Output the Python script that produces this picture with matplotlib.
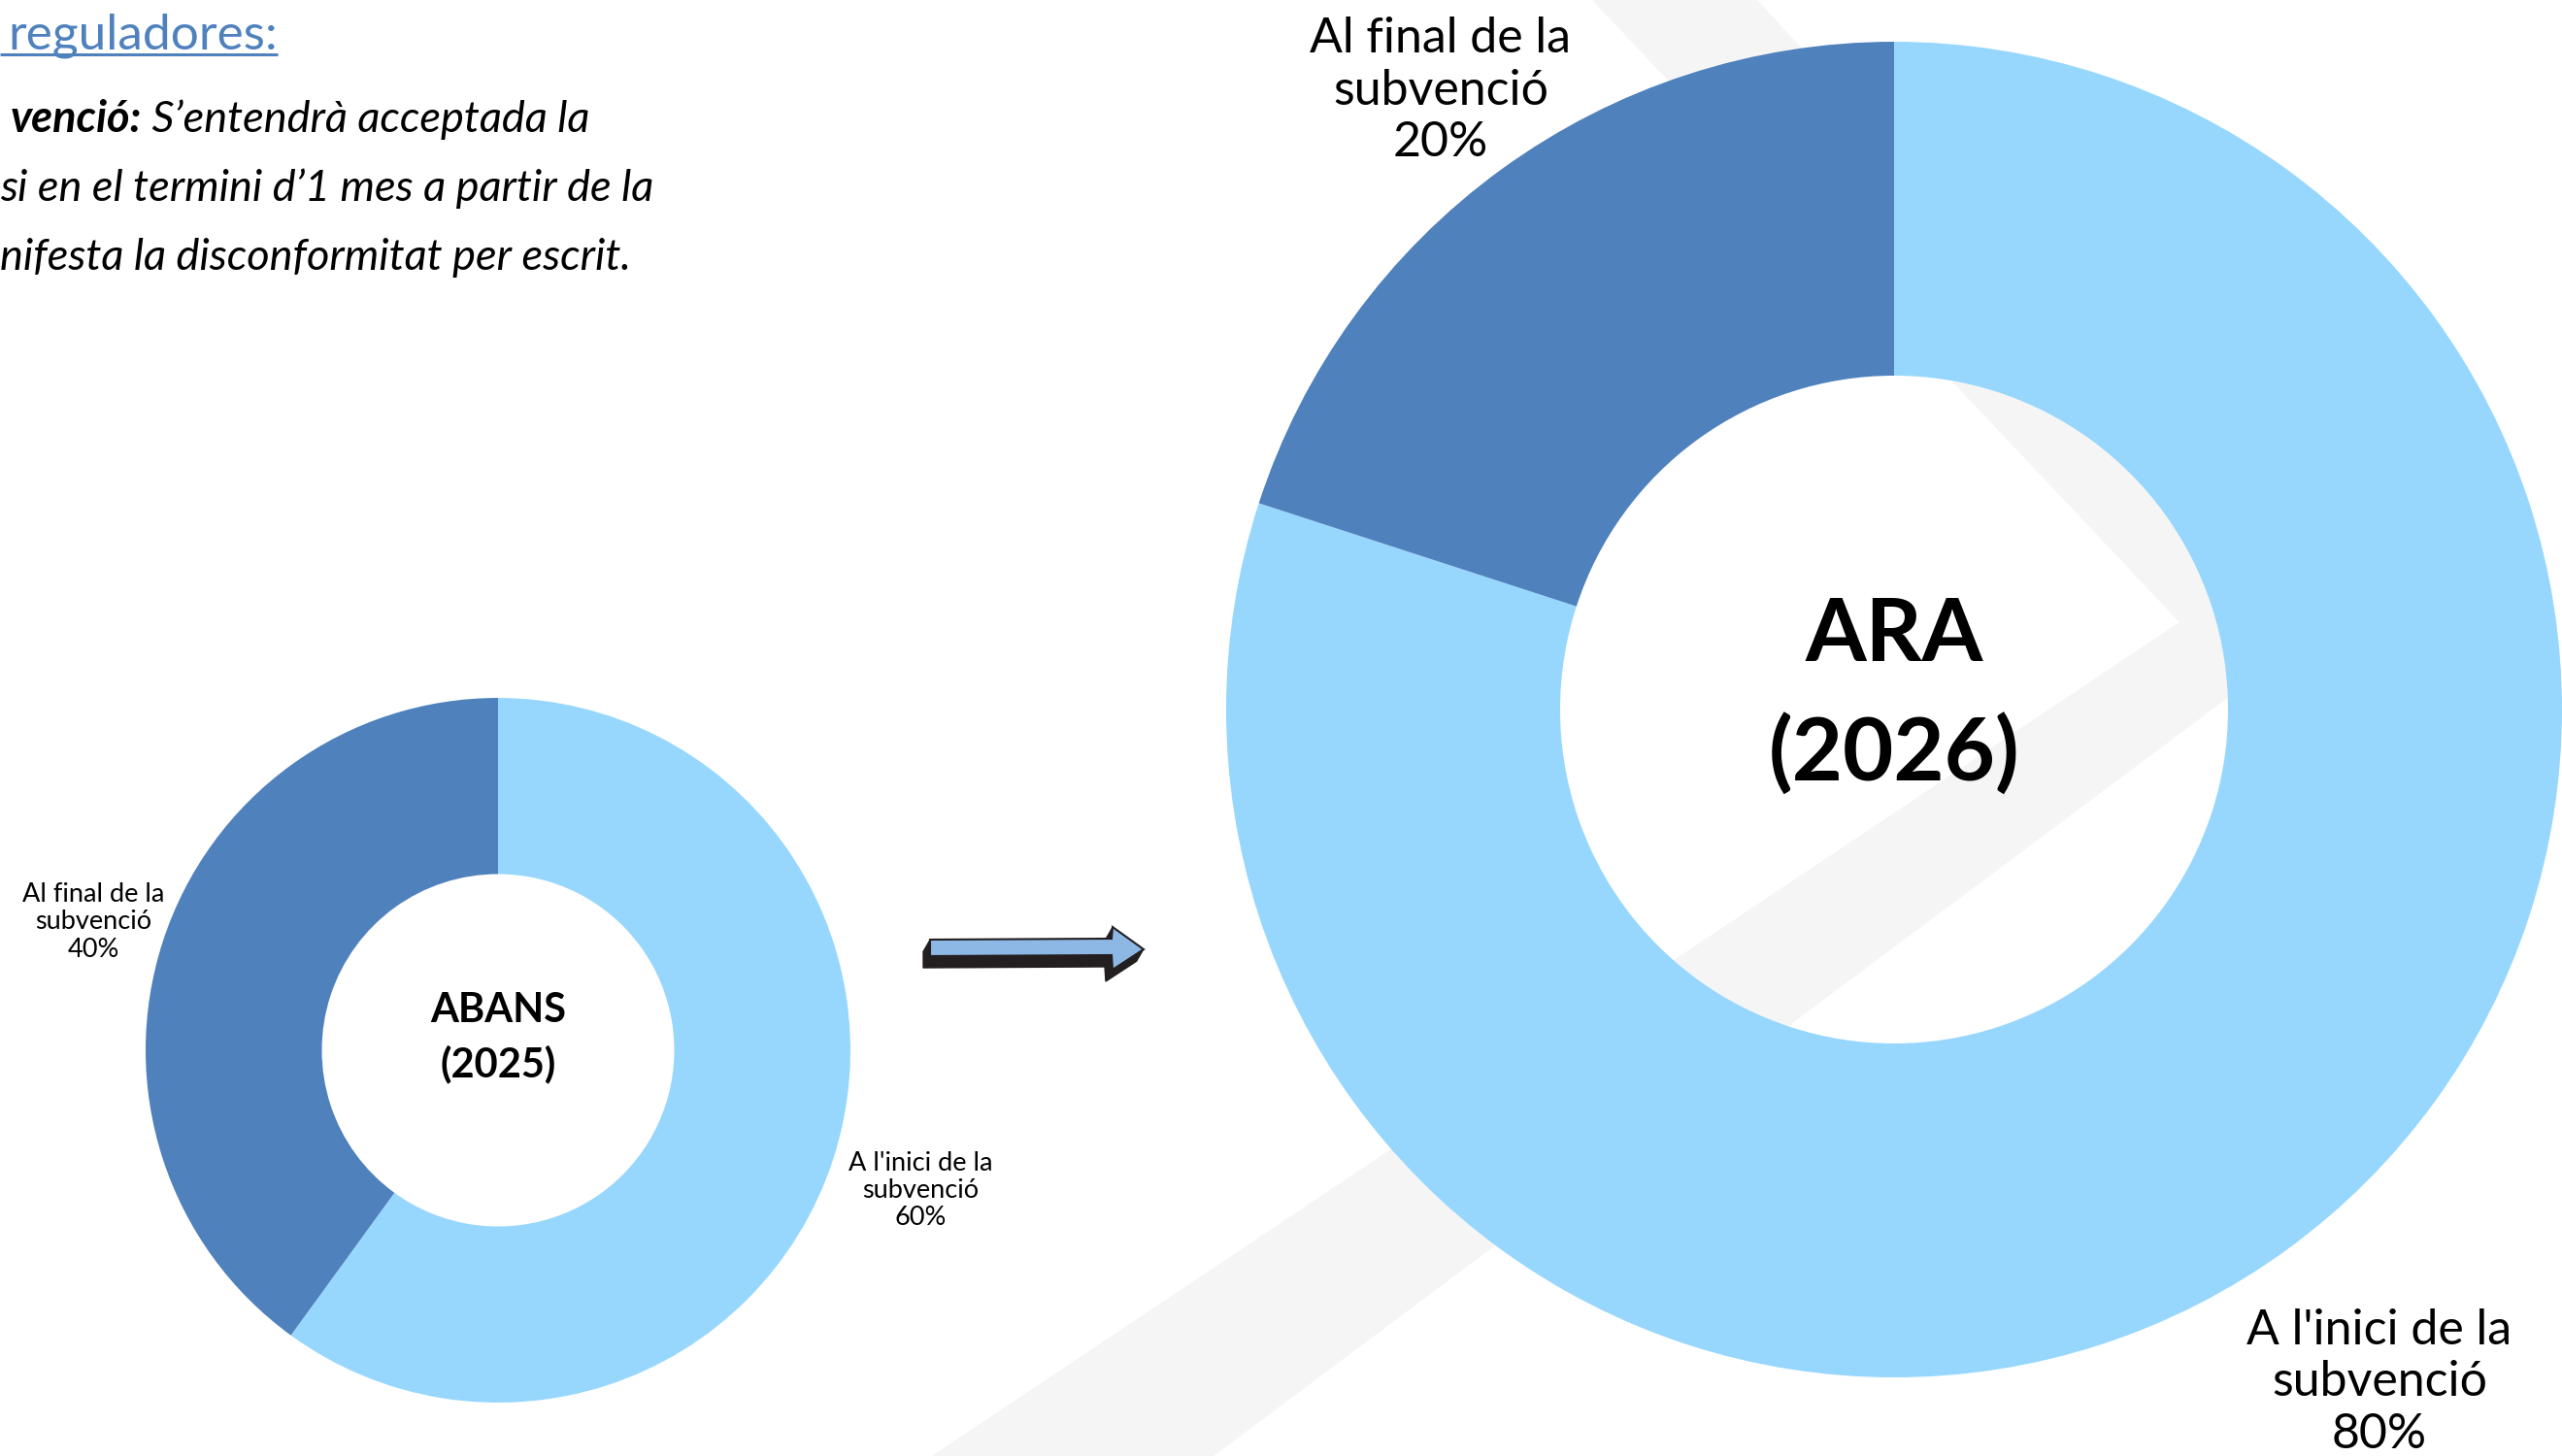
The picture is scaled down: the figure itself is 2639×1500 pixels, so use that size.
import numpy as np
import matplotlib
matplotlib.use("Agg")
import matplotlib.pyplot as plt
from matplotlib.patches import Polygon

W, H = 2639, 1500
plt.rcParams['font.family'] = ['Lato', 'DejaVu Sans']

# data
segments = ["A l'inici de la\nsubvenció", "Al final de la\nsubvenció"]
abans_vals = [60, 40]
ara_vals = [80, 20]
colors = ['#97D7FE', '#4F81BD']

heading = "reguladores:"
body_bold = "venció:"
body_lines = [" S’entendrà acceptada la",
              "si en el termini d’1 mes a partir de la",
              "nifesta la disconformitat per escrit."]

fig = plt.figure(figsize=(W / 100, H / 100), dpi=100)

# faint watermark band behind everything (pixel coords, y down)
bg = fig.add_axes([0, 0, 1, 1], zorder=0)
bg.set_xlim(0, W)
bg.set_ylim(H, 0)
bg.axis('off')
bg.add_patch(Polygon([(1640, 0), (1810, 0), (2400, 640), (1250, 1500),
                      (960, 1500), (2245, 641)], closed=True,
                     fc='#F5F5F5', ec='none'))


def donut(rect, vals, title, title_size, title_ls, title_dy,
          label_size, label_ls, label_dist, label_dy):
    ax = fig.add_axes(rect, zorder=1)
    ax.set_facecolor('none')
    wedges, _ = ax.pie(vals, colors=colors, startangle=90, counterclock=False,
                       radius=1, wedgeprops=dict(width=0.5, linewidth=0))
    ax.set_xlim(-1, 1)
    ax.set_ylim(-1, 1)
    ax.set_aspect('equal')
    ax.axis('off')
    total = sum(vals)
    for w, lab, v, d in zip(wedges, segments, vals, label_dist):
        ang = np.deg2rad((w.theta1 + w.theta2) / 2)
        ax.text(d * np.cos(ang), d * np.sin(ang) - label_dy,
                f"{lab}\n{v / total * 100:.0f}%", ha='center', va='center',
                fontsize=label_size, linespacing=label_ls, color='black')
    ax.text(0, title_dy, title, ha='center', va='center', fontsize=title_size,
            fontweight='bold', linespacing=title_ls)
    return ax


# ABANS (2025): centre (513, 1082), r 363 px
donut([150 / W, (H - 1445) / H, 726 / W, 726 / H], abans_vals,
      "ABANS\n(2025)", 30, 1.52, 0.035, 19.5, 1.16, [1.26, 1.207], 0.009)
# ARA (2026): centre (1951, 731), r 688 px
donut([1263 / W, (H - 1419) / H, 1376 / W, 1376 / H], ara_vals,
      "ARA\n(2026)", 65, 1.55, 0.02, 36, 1.2, [1.236, 1.155], 0.008)

# foreground: text + arrow
fg = fig.add_axes([0, 0, 1, 1], zorder=3)
fg.set_xlim(0, W)
fg.set_ylim(H, 0)
fg.axis('off')
fg.set_facecolor('none')

t = fg.text(8, 50, heading, color='#4F81BD', fontsize=37, ha='left',
            va='baseline')
fig.canvas.draw()
bb = t.get_window_extent().transformed(fg.transData.inverted())
fg.plot([0, bb.x1], [56, 56], color='#4F81BD', lw=2.2, solid_capstyle='butt')

fg.text(146, 136, body_bold, fontsize=32.5, fontweight='bold',
        fontstyle='italic', ha='right', va='baseline')
fg.text(146, 136, body_lines[0], fontsize=32.5, fontstyle='italic',
        ha='left', va='baseline')
fg.text(0, 207, body_lines[1], fontsize=32.5, fontstyle='italic',
        ha='left', va='baseline')
fg.text(0, 278, body_lines[2], fontsize=32.5, fontstyle='italic',
        ha='left', va='baseline')

# 3D block arrow
arrow = np.array([(958, 968), (1145, 967), (1146, 955), (1178, 978),
                  (1146, 999), (1145, 984), (958, 985)], dtype=float)
for s in np.linspace(1, 0.1, 10):
    fg.add_patch(Polygon(arrow + np.array([-7, 12]) * s, closed=True,
                         fc='#231F20', ec='#231F20', lw=1))
fg.add_patch(Polygon(arrow, closed=True, fc='#8DB8E6', ec='#231F20', lw=1.5))

fig.savefig('out.png', dpi=100, facecolor='white')
